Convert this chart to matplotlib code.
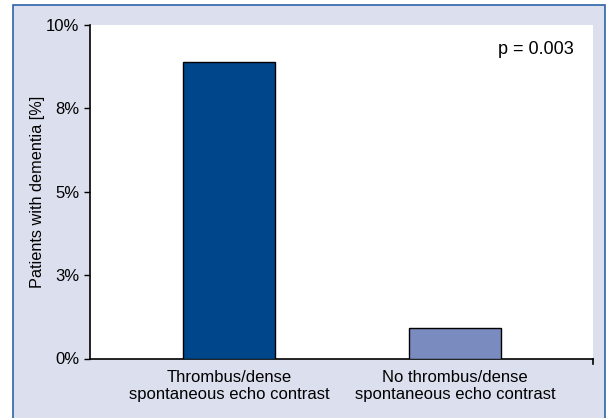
import matplotlib
matplotlib.use("Agg")
import matplotlib.pyplot as plt
from matplotlib.patches import Rectangle
from matplotlib.ticker import FixedLocator, FixedFormatter

categories = ["Thrombus/dense\nspontaneous echo contrast",
              "No thrombus/dense\nspontaneous echo contrast"]
values = [8.88, 0.9]
bar_colors = ["#00468B", "#7A8CBF"]
ytick_values = [0, 2.5, 5, 7.5, 10]
ytick_labels = ["0%", "3%", "5%", "8%", "10%"]
ylabel = "Patients with dementia [%]"
annotation = "p = 0.003"

plt.rcParams['font.family'] = ['Liberation Sans', 'DejaVu Sans']

fig = plt.figure(figsize=(6.08, 4.18), dpi=100)
fig.patch.set_facecolor("white")
bg = Rectangle((13/608, -0.01), (605-13)/608, (418-5)/418 + 0.01,
               transform=fig.transFigure, facecolor="#DCE0EE",
               edgecolor="#2F64A8", linewidth=1.2, zorder=-10)
fig.patches.append(bg)

ax = fig.add_axes([90/608, (418-358.5)/418, (593-90)/608, (358.5-25)/418])
ax.set_zorder(5)
ax.set_facecolor("white")
x = list(range(len(categories)))
ax.bar(x, values, width=0.41, color=bar_colors, edgecolor="black", linewidth=1.0, zorder=3)
ax.set_xlim(-0.615, 1.61)
ax.set_ylim(0, 10)
ax.yaxis.set_major_locator(FixedLocator(ytick_values))
ax.yaxis.set_major_formatter(FixedFormatter(ytick_labels))
ax.set_xticks(x)
ax.set_xticklabels(categories, fontsize=12, linespacing=1.2)
ax.tick_params(axis='x', length=0, pad=8)
ax.tick_params(axis='y', length=4.5, width=1, labelsize=12, pad=3)
for s in ["top", "right"]:
    ax.spines[s].set_visible(False)
ax.spines["left"].set_linewidth(1.2)
ax.spines["bottom"].set_linewidth(1.2)
ax.plot([1, 1], [0, -0.015], transform=ax.transAxes, color="black", lw=1.2, clip_on=False)
ax.set_ylabel(ylabel, fontsize=11.7, labelpad=1)
ax.text(484/503, (358.5-50)/333.5, annotation, transform=ax.transAxes,
        ha="right", va="center", fontsize=13)

fig.savefig("out.png", dpi=100)
